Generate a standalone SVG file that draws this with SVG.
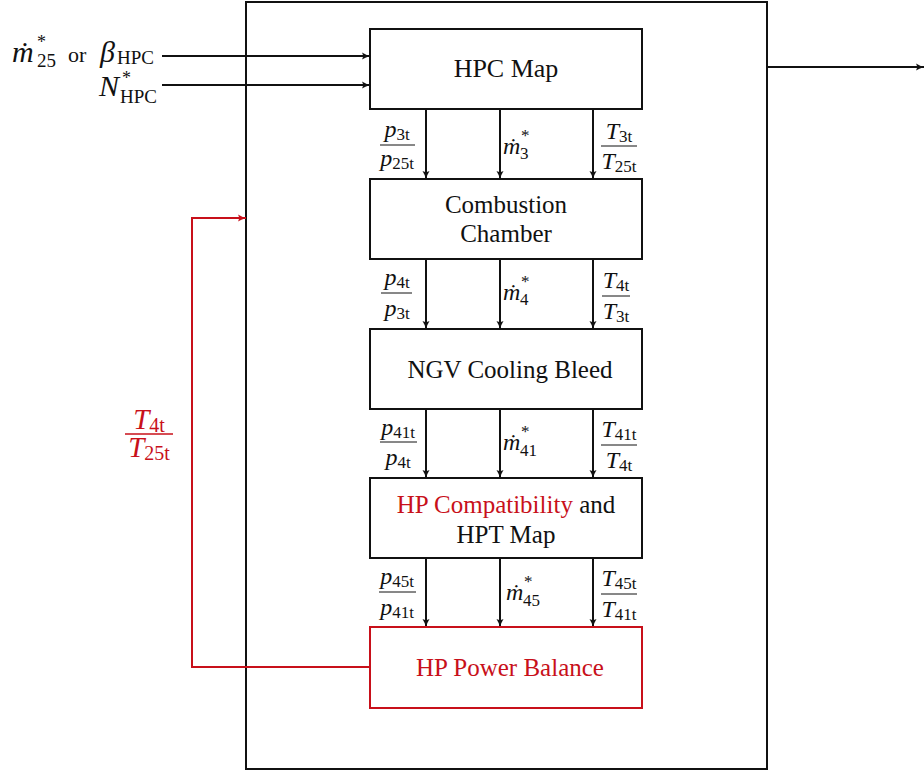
<svg xmlns="http://www.w3.org/2000/svg" width="924" height="770" viewBox="0 0 924 770">
<style>
.t{font-family:"Liberation Serif","DejaVu Serif",serif;fill:#111}
.lbl{font-size:25px;text-anchor:middle}
.m{font-style:italic;font-size:24px}
.s{font-style:normal;font-size:17px}
.red{fill:#c8101a}
.box{fill:#fff;stroke:#111;stroke-width:2}
.rbox{fill:#fff;stroke:#c8101a;stroke-width:2}
.ln{stroke:#111;stroke-width:2;fill:none}
.rln{stroke:#c8101a;stroke-width:2;fill:none}
.bar{stroke:#111;stroke-width:1}
</style>
<defs>
<marker id="ah" markerWidth="10" markerHeight="10" refX="9" refY="5" orient="auto" markerUnits="userSpaceOnUse">
<path d="M1,1.5 Q5,4 9,5 Q5,6 1,8.5 Q3,5 1,1.5 Z" fill="#111"/>
</marker>
<marker id="ahr" markerWidth="10" markerHeight="10" refX="9" refY="5" orient="auto" markerUnits="userSpaceOnUse">
<path d="M1,1.5 Q5,4 9,5 Q5,6 1,8.5 Q3,5 1,1.5 Z" fill="#c8101a"/>
</marker>
</defs>
<rect x="246" y="2" width="521" height="767" fill="none" stroke="#111" stroke-width="2"/>
<g id="connectors">
<line class="ln" x1="162" y1="56" x2="370" y2="56" marker-end="url(#ah)"/>
<line class="ln" x1="162" y1="85" x2="370" y2="85" marker-end="url(#ah)"/>
<line class="ln" x1="767" y1="67" x2="924" y2="67" marker-end="url(#ah)"/>
<line class="ln" x1="426" y1="109" x2="426" y2="179" marker-end="url(#ah)"/>
<line class="ln" x1="500" y1="109" x2="500" y2="179" marker-end="url(#ah)"/>
<line class="ln" x1="593" y1="109" x2="593" y2="179" marker-end="url(#ah)"/>
<line class="ln" x1="426" y1="259" x2="426" y2="329" marker-end="url(#ah)"/>
<line class="ln" x1="500" y1="259" x2="500" y2="329" marker-end="url(#ah)"/>
<line class="ln" x1="593" y1="259" x2="593" y2="329" marker-end="url(#ah)"/>
<line class="ln" x1="426" y1="409" x2="426" y2="478" marker-end="url(#ah)"/>
<line class="ln" x1="500" y1="409" x2="500" y2="478" marker-end="url(#ah)"/>
<line class="ln" x1="593" y1="409" x2="593" y2="478" marker-end="url(#ah)"/>
<line class="ln" x1="426" y1="558" x2="426" y2="627" marker-end="url(#ah)"/>
<line class="ln" x1="500" y1="558" x2="500" y2="627" marker-end="url(#ah)"/>
<line class="ln" x1="593" y1="558" x2="593" y2="627" marker-end="url(#ah)"/>
<polyline class="rln" points="370,667 192,667 192,218 246,218" marker-end="url(#ahr)"/>
</g>
<g id="inputs">
<text class="t" x="12" y="62"><tspan class="m" style="font-size:30px">ṁ</tspan><tspan class="s" style="font-size:18px" x="37" y="48">*</tspan><tspan class="s" style="font-size:19px" x="37" y="67">25</tspan><tspan style="font-size:22px" x="68" y="62">or</tspan><tspan class="m" style="font-size:30px" x="100" y="62">β</tspan><tspan class="s" style="font-size:19px" x="117" y="64">HPC</tspan></text>
<text class="t" x="99" y="96"><tspan class="m" style="font-size:30px">N</tspan><tspan class="s" style="font-size:18px" x="122" y="84">*</tspan><tspan class="s" style="font-size:19px" x="120" y="103">HPC</tspan></text>
</g>
<g id="hpc"><rect class="box" x="370" y="29" width="272" height="80"/><text class="t lbl" x="506" y="77" style="font-size:26px">HPC Map</text></g>
<g id="cc"><rect class="box" x="370" y="179" width="272" height="80"/><text class="t lbl" x="506" y="213">Combustion</text><text class="t lbl" x="506" y="242">Chamber</text></g>
<g id="ngv"><rect class="box" x="370" y="329" width="272" height="80"/><text class="t lbl" x="510" y="378">NGV Cooling Bleed</text></g>
<g id="hpt"><rect class="box" x="370" y="478" width="272" height="80"/><text class="t lbl" x="506" y="513"><tspan class="red">HP Compatibility</tspan> and</text><text class="t lbl" x="506" y="543">HPT Map</text></g>
<g id="pb"><rect class="rbox" x="370" y="627" width="272" height="81"/><text class="t lbl red" x="510" y="676">HP Power Balance</text></g>
<g id="labels">
<text class="t" x="397" y="137" text-anchor="middle"><tspan class="m">p</tspan><tspan class="s" dy="3">3t</tspan></text>
<line class="bar" x1="380" y1="145" x2="415" y2="145"/>
<text class="t" x="397" y="166" text-anchor="middle"><tspan class="m">p</tspan><tspan class="s" dy="3">25t</tspan></text>
<text class="t" x="503" y="154"><tspan class="m">ṁ</tspan><tspan class="s" x="521" y="141">*</tspan><tspan class="s" x="520" y="159">3</tspan></text>
<text class="t" x="619" y="139" text-anchor="middle"><tspan class="m">T</tspan><tspan class="s" dy="3">3t</tspan></text>
<line class="bar" x1="601" y1="146" x2="637" y2="146"/>
<text class="t" x="619" y="169" text-anchor="middle"><tspan class="m">T</tspan><tspan class="s" dy="3">25t</tspan></text>
<text class="t" x="397" y="285" text-anchor="middle"><tspan class="m">p</tspan><tspan class="s" dy="3">4t</tspan></text>
<line class="bar" x1="381" y1="293" x2="412" y2="293"/>
<text class="t" x="397" y="316" text-anchor="middle"><tspan class="m">p</tspan><tspan class="s" dy="3">3t</tspan></text>
<text class="t" x="503" y="300"><tspan class="m">ṁ</tspan><tspan class="s" x="521" y="287">*</tspan><tspan class="s" x="520" y="305">4</tspan></text>
<text class="t" x="616" y="288" text-anchor="middle"><tspan class="m">T</tspan><tspan class="s" dy="3">4t</tspan></text>
<line class="bar" x1="602" y1="296" x2="630" y2="296"/>
<text class="t" x="616" y="319" text-anchor="middle"><tspan class="m">T</tspan><tspan class="s" dy="3">3t</tspan></text>
<text class="t" x="398" y="435" text-anchor="middle"><tspan class="m">p</tspan><tspan class="s" dy="3">41t</tspan></text>
<line class="bar" x1="380" y1="442" x2="417" y2="442"/>
<text class="t" x="398" y="465" text-anchor="middle"><tspan class="m">p</tspan><tspan class="s" dy="3">4t</tspan></text>
<text class="t" x="503" y="450"><tspan class="m">ṁ</tspan><tspan class="s" x="521" y="437">*</tspan><tspan class="s" x="520" y="456">41</tspan></text>
<text class="t" x="619" y="437" text-anchor="middle"><tspan class="m">T</tspan><tspan class="s" dy="3">41t</tspan></text>
<line class="bar" x1="601" y1="445" x2="637" y2="445"/>
<text class="t" x="619" y="468" text-anchor="middle"><tspan class="m">T</tspan><tspan class="s" dy="3">4t</tspan></text>
<text class="t" x="397" y="584" text-anchor="middle"><tspan class="m">p</tspan><tspan class="s" dy="3">45t</tspan></text>
<line class="bar" x1="379" y1="592" x2="416" y2="592"/>
<text class="t" x="397" y="615" text-anchor="middle"><tspan class="m">p</tspan><tspan class="s" dy="3">41t</tspan></text>
<text class="t" x="506" y="600"><tspan class="m">ṁ</tspan><tspan class="s" x="524" y="587">*</tspan><tspan class="s" x="523" y="606">45</tspan></text>
<text class="t" x="619" y="586" text-anchor="middle"><tspan class="m">T</tspan><tspan class="s" dy="3">45t</tspan></text>
<line class="bar" x1="601" y1="594" x2="637" y2="594"/>
<text class="t" x="619" y="617" text-anchor="middle"><tspan class="m">T</tspan><tspan class="s" dy="3">41t</tspan></text>
<text class="t red" x="149" y="429" text-anchor="middle"><tspan class="m" style="font-size:29px">T</tspan><tspan class="s" style="font-size:20px" dy="3">4t</tspan></text>
<line x1="125" y1="434" x2="173" y2="434" stroke="#c8101a" stroke-width="1.5"/>
<text class="t red" x="149" y="457" text-anchor="middle"><tspan class="m" style="font-size:29px">T</tspan><tspan class="s" style="font-size:20px" dy="3">25t</tspan></text>
</g>
</svg>
